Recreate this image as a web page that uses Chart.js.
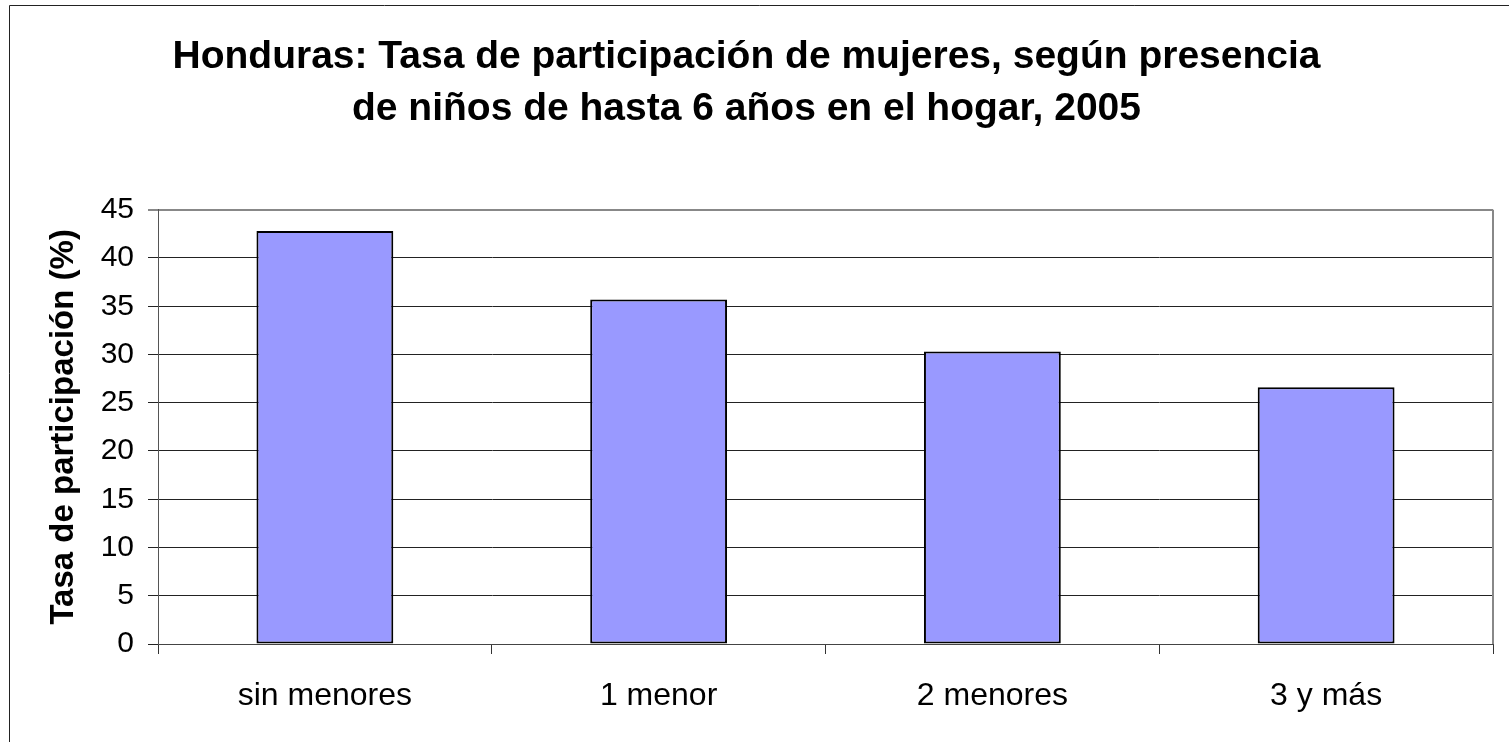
<!DOCTYPE html>
<html>
<head>
<meta charset="utf-8">
<script src="https://cdn.jsdelivr.net/npm/chart.js@4/dist/chart.umd.min.js"></script>
<style>
  html, body { margin: 0; padding: 0; background: #fff; }
  canvas { display: block; }
</style>
</head>
<body>
<canvas id="chart" width="1509" height="742"></canvas>
<script>
const categories = ['sin menores', '1 menor', '2 menores', '3 y más'];
const tasaParticipacion = [42.8, 35.7, 30.3, 26.6];
const titleLines = [
    'Honduras: Tasa de participación de mujeres, según presencia',
    'de niños de hasta 6 años en el hogar, 2005'
];
const yAxisTitle = 'Tasa de participación (%)';

// outer frame of the chart object + grey right border of the plot area
const framePlugin = {
    id: 'frame',
    beforeDraw(chart) {
        const ctx = chart.ctx;
        ctx.save();
        ctx.fillStyle = '#fff';
        ctx.fillRect(0, 0, chart.width, chart.height);
        ctx.strokeStyle = '#222';
        ctx.lineWidth = 1;
        ctx.beginPath();
        ctx.moveTo(9.5, chart.height);
        ctx.lineTo(9.5, 5.5);
        ctx.lineTo(chart.width, 5.5);
        ctx.stroke();
        ctx.restore();
    },
    afterDraw(chart) {
        const { ctx, chartArea } = chart;
        ctx.save();
        ctx.strokeStyle = '#888';
        ctx.lineWidth = 2;
        ctx.beginPath();
        ctx.moveTo(chartArea.right, chartArea.top);
        ctx.lineTo(chartArea.right, chartArea.bottom);
        ctx.stroke();
        ctx.restore();
    }
};

const ctx = document.getElementById('chart').getContext('2d');
new Chart(ctx, {
    type: 'bar',
    data: {
        labels: categories,
        datasets: [{
            data: tasaParticipacion,
            backgroundColor: '#9999FF',
            borderColor: '#000',
            borderWidth: 2,
            borderSkipped: false,
            categoryPercentage: 1,
            barPercentage: 0.41
        }]
    },
    options: {
        responsive: false,
        animation: false,
        layout: {
            padding: { top: 10, right: 16, bottom: 0, left: 0 }
        },
        plugins: {
            legend: { display: false },
            tooltip: { enabled: false },
            title: {
                display: true,
                text: titleLines,
                color: '#000',
                font: { family: '"Liberation Sans", Arial, sans-serif', size: 39, weight: 'bold', lineHeight: 1.33 },
                padding: { top: 21, bottom: 75 }
            }
        },
        scales: {
            x: {
                offset: true,
                grid: {
                    offset: true,
                    drawOnChartArea: false,
                    drawTicks: true,
                    tickLength: 10,
                    color: '#333'
                },
                border: { color: '#444', width: 1 },
                ticks: {
                    color: '#000',
                    padding: 23,
                    font: { family: '"Liberation Sans", Arial, sans-serif', size: 32 }
                },
                afterFit(scale) { scale.height = 98; }
            },
            y: {
                min: 0,
                max: 45,
                ticks: {
                    stepSize: 5,
                    color: '#000',
                    padding: 14,
                    font: { family: '"Liberation Sans", Arial, sans-serif', size: 30 }
                },
                grid: {
                    color: c => c.tick && c.tick.value === 45 ? '#888' : '#222',
                    lineWidth: c => c.tick && c.tick.value === 45 ? 2 : 1,
                    tickLength: 10
                },
                border: { color: '#555', width: 1 },
                title: {
                    display: true,
                    text: yAxisTitle,
                    color: '#000',
                    font: { family: '"Liberation Sans", Arial, sans-serif', size: 33, weight: 'bold', lineHeight: 1.2 },
                    padding: { top: 44, bottom: 0 }
                },
                afterFit(scale) { scale.width = 158; }
            }
        }
    },
    plugins: [framePlugin]
});
</script>
</body>
</html>
